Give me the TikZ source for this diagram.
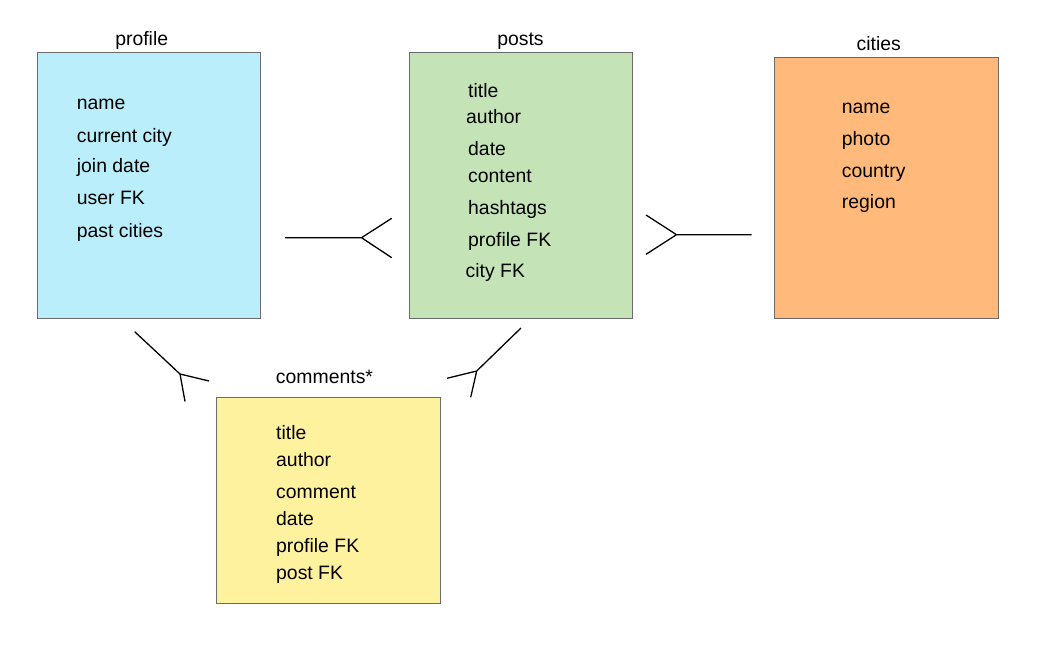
\documentclass[tikz,border=0pt]{standalone}
\usepackage{fontspec}
\setmainfont{Liberation Sans}
\definecolor{cprofile}{HTML}{B9EEFA}
\definecolor{cposts}{HTML}{C4E3B7}
\definecolor{ccities}{HTML}{FFB97B}
\definecolor{ccomments}{HTML}{FFF29E}
\definecolor{cborder}{HTML}{6B6B6B}
\begin{document}
\begin{tikzpicture}[x=1pt,y=-1pt,
  tbl/.style={draw=cborder,line width=1pt},
  ttl/.style={anchor=base,inner sep=0pt,font=\fontsize{19.4}{22}\selectfont},
  fld/.style={anchor=base west,inner sep=0pt,font=\fontsize{19.4}{22}\selectfont},
  rel/.style={draw=black,line width=1.3pt}]
\useasboundingbox (0,0) rectangle (1054,655);
% tables
\path[tbl,fill=cprofile] (37.3,52.7) rectangle (260,318);
\path[tbl,fill=cposts] (409.5,52.7) rectangle (632.5,318);
\path[tbl,fill=ccities] (774,57.7) rectangle (998,318);
\path[tbl,fill=ccomments] (216.7,397.7) rectangle (440.7,603.3);
% titles
\node[ttl] (tprofile) at (141.7,46) {profile};
\node[ttl] (tposts) at (520.5,45.5) {posts};
\node[ttl] (tcities) at (878.7,51) {cities};
\node[ttl] (tcomments) at (324.5,383) {comments*};
% profile fields
\node[fld] (p1) at (76.7,109.7) {name};
\node[fld] (p2) at (76.7,142.3) {current city};
\node[fld] (p3) at (76.7,172.3) {join date};
\node[fld] (p4) at (76.7,204.7) {user FK};
\node[fld] (p5) at (76.7,237.3) {past cities};
% posts fields
\node[fld] (q1) at (468,97.3) {title};
\node[fld] (q2) at (466,124) {author};
\node[fld] (q3) at (468,155.7) {date};
\node[fld] (q4) at (468,182.3) {content};
\node[fld] (q5) at (468,214.7) {hashtags};
\node[fld] (q6) at (468,246.3) {profile FK};
\node[fld] (q7) at (465.5,277.3) {city FK};
% cities fields
\node[fld] (c1) at (841.7,114) {name};
\node[fld] (c2) at (841.7,145.7) {photo};
\node[fld] (c3) at (841.7,177.3) {country};
\node[fld] (c4) at (841.7,208.3) {region};
% comments fields
\node[fld] (m1) at (276,439) {title};
\node[fld] (m2) at (276,466.7) {author};
\node[fld] (m3) at (276,498) {comment};
\node[fld] (m4) at (276,525) {date};
\node[fld] (m5) at (276,552.3) {profile FK};
\node[fld] (m6) at (276,579) {post FK};
% relationship connectors (crow's feet)
\coordinate (a0) at (285,237.7);
\coordinate (a1) at (361.5,237.7);
\coordinate (a2) at (391.7,218.3);
\coordinate (a3) at (391.7,257.7);
\draw[rel] (a0) -- (a1) -- (a2) (a1) -- (a3);
\coordinate (b0) at (751.7,234.7);
\coordinate (b1) at (676.5,234.7);
\coordinate (b2) at (646,215);
\coordinate (b3) at (646,254.3);
\draw[rel] (b0) -- (b1) -- (b2) (b1) -- (b3);
\coordinate (d0) at (134.7,331.7);
\coordinate (d1) at (180,374);
\coordinate (d2) at (209,381);
\coordinate (d3) at (185,401.5);
\draw[rel] (d0) -- (d1) -- (d2) (d1) -- (d3);
\coordinate (e0) at (521,328);
\coordinate (e1) at (476.7,371);
\coordinate (e2) at (447,378.3);
\coordinate (e3) at (470.7,397.3);
\draw[rel] (e0) -- (e1) -- (e2) (e1) -- (e3);
\end{tikzpicture}
\end{document}
